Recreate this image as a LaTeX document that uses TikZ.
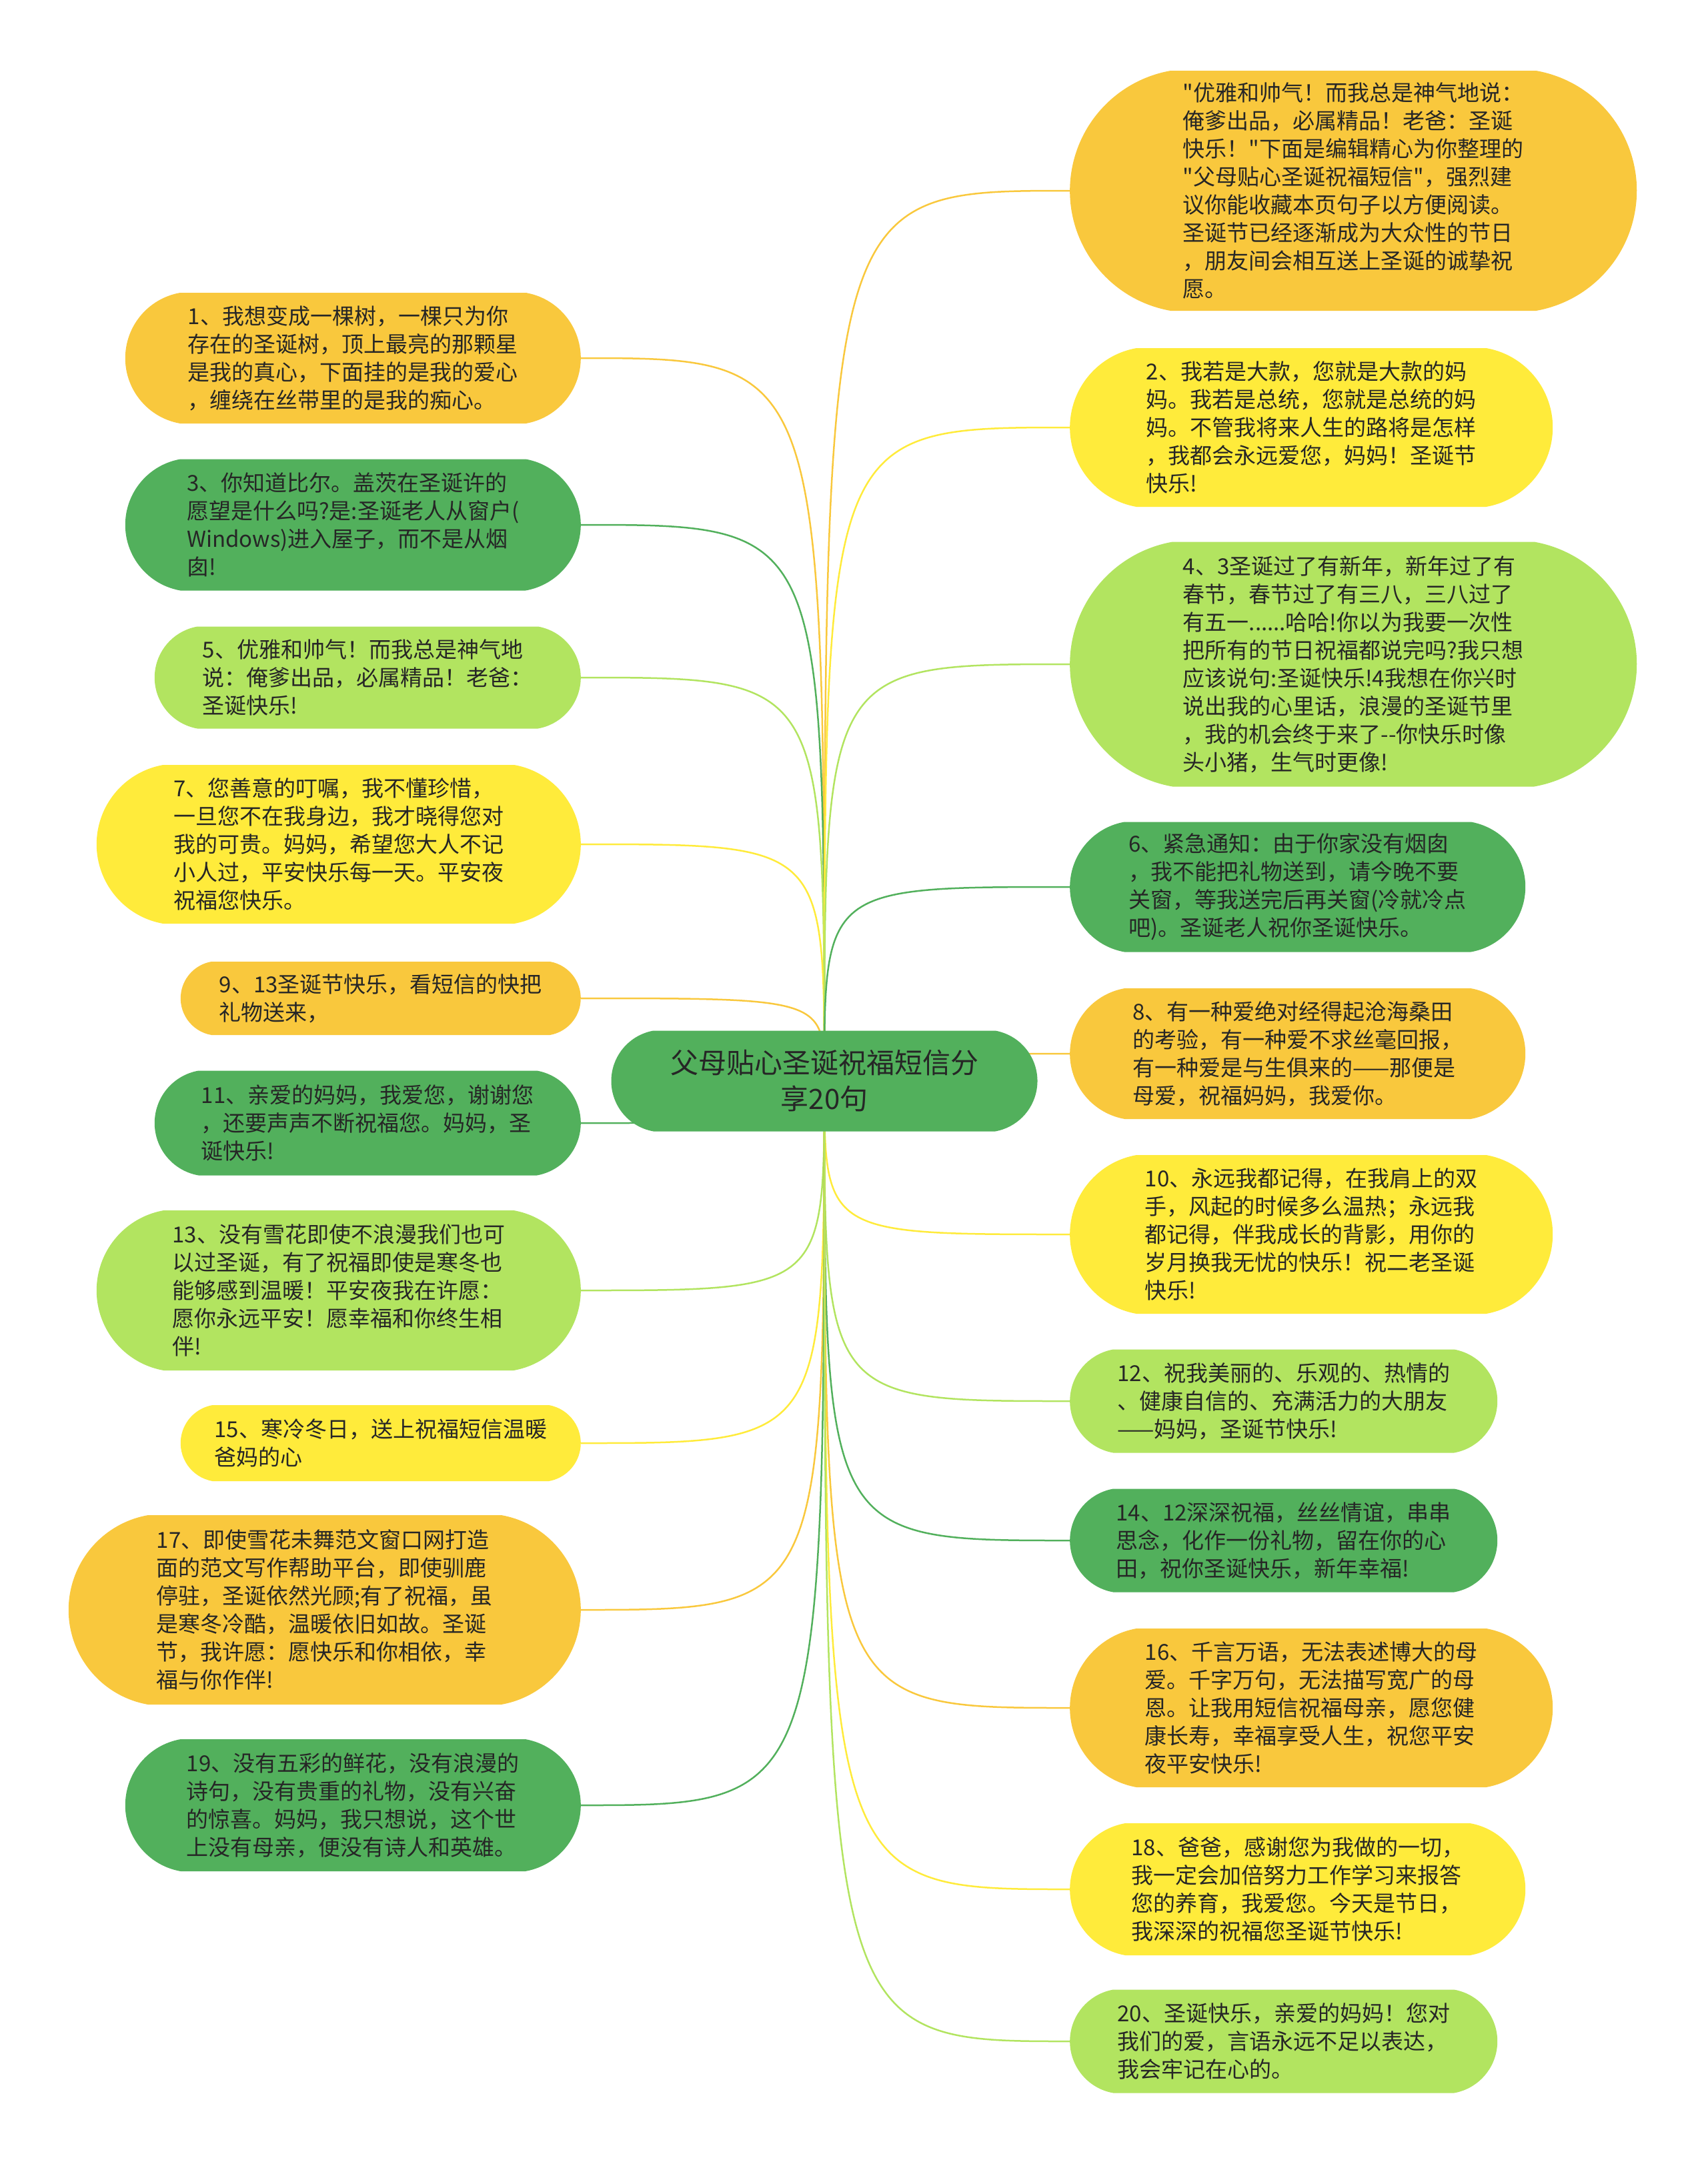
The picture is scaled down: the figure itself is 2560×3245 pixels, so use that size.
\documentclass[tikz,border=0pt]{standalone}
\usepackage{fontspec}
\setmainfont{Noto Sans CJK SC}[Ligatures=TeXOff]
\usetikzlibrary{shapes.misc,backgrounds}

\definecolor{orangefill}{HTML}{F9C83D}
\definecolor{greenfill}{HTML}{52B05C}
\definecolor{limefill}{HTML}{B2E460}
\definecolor{yellowfill}{HTML}{FFEB3B}
\definecolor{textdark}{HTML}{262626}

\begin{document}
\begin{tikzpicture}[x=1pt,y=-1pt,
    box/.style={rounded rectangle, rounded rectangle arc length=160, inner sep=0pt,
        align=left, text=textdark, font=\fontsize{33}{42}\selectfont},
    orangebox/.style={box, fill=orangefill},
    greenbox/.style={box, fill=greenfill},
    limebox/.style={box, fill=limefill},
    yellowbox/.style={box, fill=yellowfill},
    link/.style={line width=2.5pt}]
    \useasboundingbox (0,0) rectangle (2560,3245);

    % centre
    \node[greenbox, align=center, font=\fontsize{42}{54}\selectfont,
        minimum width=639, minimum height=151] (root) at (1236,1621)
        {父母贴心圣诞祝福短信分\\享20句};

    % left column
    \node[orangebox, anchor=east, minimum width=683, minimum height=196] (n1) at (871,537)
        {1、我想变成一棵树，一棵只为你\\存在的圣诞树，顶上最亮的那颗星\\是我的真心，下面挂的是我的爱心\\，缠绕在丝带里的是我的痴心。};
    \node[greenbox, anchor=east, minimum width=683, minimum height=197] (n3) at (871,787)
        {3、你知道比尔。盖茨在圣诞许的\\愿望是什么吗?是:圣诞老人从窗户(\\Windows)进入屋子，而不是从烟\\囱!};
    \node[limebox, anchor=east, minimum width=639, minimum height=153] (n5) at (871,1016)
        {5、优雅和帅气！而我总是神气地\\说：俺爹出品，必属精品！老爸：\\圣诞快乐!};
    \node[yellowbox, anchor=east, minimum width=726, minimum height=238] (n7) at (871,1266)
        {7、您善意的叮嘱，我不懂珍惜，\\一旦您不在我身边，我才晓得您对\\我的可贵。妈妈，希望您大人不记\\小人过，平安快乐每一天。平安夜\\祝福您快乐。};
    \node[orangebox, anchor=east, minimum width=600, minimum height=110] (n9) at (871,1497)
        {9、13圣诞节快乐，看短信的快把\\礼物送来，};
    \node[greenbox, anchor=east, minimum width=639, minimum height=157] (n11) at (871,1684)
        {11、亲爱的妈妈，我爱您，谢谢您\\，还要声声不断祝福您。妈妈，圣\\诞快乐!};
    \node[limebox, anchor=east, minimum width=726, minimum height=240] (n13) at (871,1935)
        {13、没有雪花即使不浪漫我们也可\\以过圣诞，有了祝福即使是寒冬也\\能够感到温暖！平安夜我在许愿：\\愿你永远平安！愿幸福和你终生相\\伴!};
    \node[yellowbox, anchor=east, minimum width=600, minimum height=114] (n15) at (871,2164)
        {15、寒冷冬日，送上祝福短信温暖\\爸妈的心};
    \node[orangebox, anchor=east, minimum width=768, minimum height=284] (n17) at (871,2414)
        {17、即使雪花未舞范文窗口网打造\\面的范文写作帮助平台，即使驯鹿\\停驻，圣诞依然光顾;有了祝福，虽\\是寒冬冷酷，温暖依旧如故。圣诞\\节，我许愿：愿快乐和你相依，幸\\福与你作伴!};
    \node[greenbox, anchor=east, minimum width=683, minimum height=198] (n19) at (871,2707)
        {19、没有五彩的鲜花，没有浪漫的\\诗句，没有贵重的礼物，没有兴奋\\的惊喜。妈妈，我只想说，这个世\\上没有母亲，便没有诗人和英雄。};

    % right column
    \node[orangebox, anchor=west, minimum width=850, minimum height=360] (n0) at (1604,286)
        {"优雅和帅气！而我总是神气地说：\\俺爹出品，必属精品！老爸：圣诞\\快乐！"下面是编辑精心为你整理的\\"父母贴心圣诞祝福短信"，强烈建\\议你能收藏本页句子以方便阅读。\\圣诞节已经逐渐成为大众性的节日\\，朋友间会相互送上圣诞的诚挚祝\\愿。};
    \node[yellowbox, anchor=west, minimum width=724, minimum height=238] (n2) at (1604,641)
        {2、我若是大款，您就是大款的妈\\妈。我若是总统，您就是总统的妈\\妈。不管我将来人生的路将是怎样\\，我都会永远爱您，妈妈！圣诞节\\快乐!};
    \node[limebox, anchor=west, minimum width=850, minimum height=367] (n4) at (1604,996)
        {4、3圣诞过了有新年，新年过了有\\春节，春节过了有三八，三八过了\\有五一......哈哈!你以为我要一次性\\把所有的节日祝福都说完吗?我只想\\应该说句:圣诞快乐!4我想在你兴时\\说出我的心里话，浪漫的圣诞节里\\，我的机会终于来了--你快乐时像\\头小猪，生气时更像!};
    \node[greenbox, anchor=west, minimum width=683, minimum height=195] (n6) at (1604,1330)
        {6、紧急通知：由于你家没有烟囱\\，我不能把礼物送到，请今晚不要\\关窗，等我送完后再关窗(冷就冷点\\吧)。圣诞老人祝你圣诞快乐。};
    \node[orangebox, anchor=west, minimum width=683, minimum height=196] (n8) at (1604,1580)
        {8、有一种爱绝对经得起沧海桑田\\的考验，有一种爱不求丝毫回报，\\有一种爱是与生俱来的——那便是\\母爱，祝福妈妈，我爱你。};
    \node[yellowbox, anchor=west, minimum width=724, minimum height=238] (n10) at (1604,1851)
        {10、永远我都记得，在我肩上的双\\手，风起的时候多么温热；永远我\\都记得，伴我成长的背影，用你的\\岁月换我无忧的快乐！祝二老圣诞\\快乐!};
    \node[limebox, anchor=west, minimum width=641, minimum height=155] (n12) at (1604,2101)
        {12、祝我美丽的、乐观的、热情的\\、健康自信的、充满活力的大朋友\\——妈妈，圣诞节快乐!};
    \node[greenbox, anchor=west, minimum width=641, minimum height=155] (n14) at (1604,2310)
        {14、12深深祝福，丝丝情谊，串串\\思念，化作一份礼物，留在你的心\\田，祝你圣诞快乐，新年幸福!};
    \node[orangebox, anchor=west, minimum width=724, minimum height=238] (n16) at (1604,2561)
        {16、千言万语，无法表述博大的母\\爱。千字万句，无法描写宽广的母\\恩。让我用短信祝福母亲，愿您健\\康长寿，幸福享受人生，祝您平安\\夜平安快乐!};
    \node[yellowbox, anchor=west, minimum width=683, minimum height=198] (n18) at (1604,2833)
        {18、爸爸，感谢您为我做的一切，\\我一定会加倍努力工作学习来报答\\您的养育，我爱您。今天是节日，\\我深深的祝福您圣诞节快乐!};
    \node[limebox, anchor=west, minimum width=641, minimum height=155] (n20) at (1604,3061)
        {20、圣诞快乐，亲爱的妈妈！您对\\我们的爱，言语永远不足以表达，\\我会牢记在心的。};

    % connectors
    \begin{pgfonlayer}{background}
        \draw[link, orangefill] (root.center) .. controls (root.center |- n1.east) .. (n1.east);
        \draw[link, greenfill] (root.center) .. controls (root.center |- n3.east) .. (n3.east);
        \draw[link, limefill] (root.center) .. controls (root.center |- n5.east) .. (n5.east);
        \draw[link, yellowfill] (root.center) .. controls (root.center |- n7.east) .. (n7.east);
        \draw[link, orangefill] (root.center) .. controls (root.center |- n9.east) .. (n9.east);
        \draw[link, greenfill] (root.center) .. controls (root.center |- n11.east) .. (n11.east);
        \draw[link, limefill] (root.center) .. controls (root.center |- n13.east) .. (n13.east);
        \draw[link, yellowfill] (root.center) .. controls (root.center |- n15.east) .. (n15.east);
        \draw[link, orangefill] (root.center) .. controls (root.center |- n17.east) .. (n17.east);
        \draw[link, greenfill] (root.center) .. controls (root.center |- n19.east) .. (n19.east);
        \draw[link, orangefill] (root.center) .. controls (root.center |- n0.west) .. (n0.west);
        \draw[link, yellowfill] (root.center) .. controls (root.center |- n2.west) .. (n2.west);
        \draw[link, limefill] (root.center) .. controls (root.center |- n4.west) .. (n4.west);
        \draw[link, greenfill] (root.center) .. controls (root.center |- n6.west) .. (n6.west);
        \draw[link, orangefill] (root.center) .. controls (root.center |- n8.west) .. (n8.west);
        \draw[link, yellowfill] (root.center) .. controls (root.center |- n10.west) .. (n10.west);
        \draw[link, limefill] (root.center) .. controls (root.center |- n12.west) .. (n12.west);
        \draw[link, greenfill] (root.center) .. controls (root.center |- n14.west) .. (n14.west);
        \draw[link, orangefill] (root.center) .. controls (root.center |- n16.west) .. (n16.west);
        \draw[link, yellowfill] (root.center) .. controls (root.center |- n18.west) .. (n18.west);
        \draw[link, limefill] (root.center) .. controls (root.center |- n20.west) .. (n20.west);
    \end{pgfonlayer}
\end{tikzpicture}
\end{document}
